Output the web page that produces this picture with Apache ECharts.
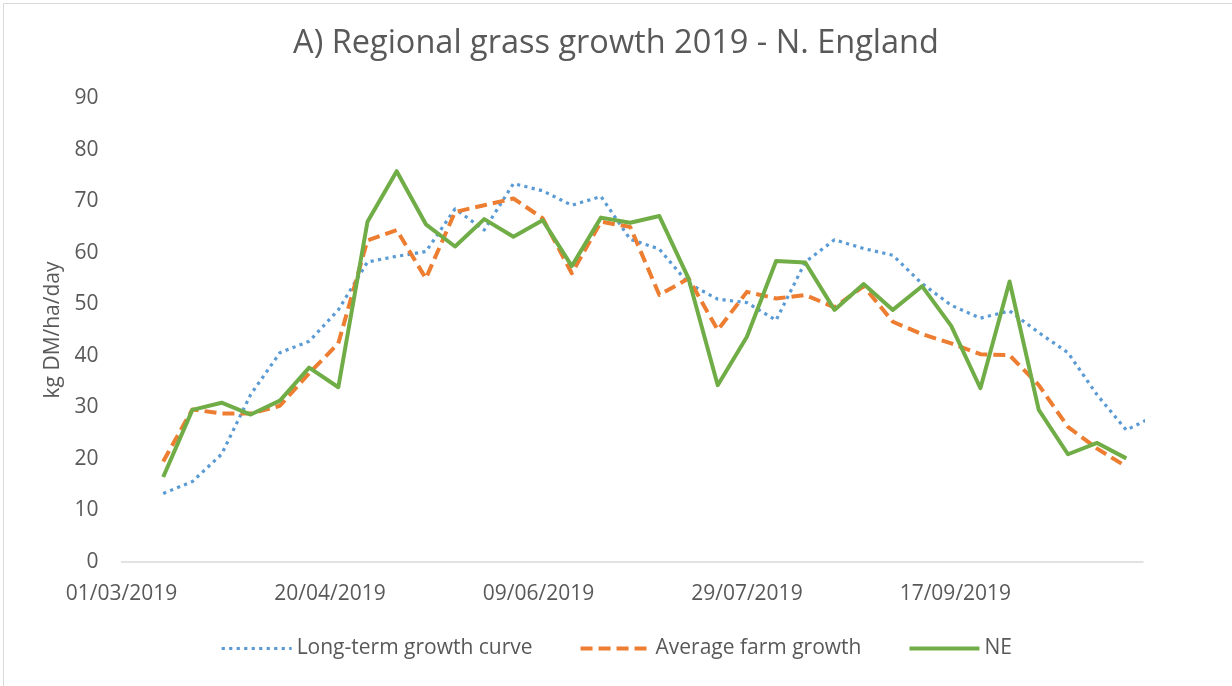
<!DOCTYPE html>
<html>
<head>
<meta charset="utf-8">
<title>Regional grass growth 2019 - N. England</title>
<script src="https://cdn.jsdelivr.net/npm/echarts@6/dist/echarts.min.js"></script>
<style>
  html, body { margin: 0; padding: 0; background: #ffffff; }
  #chart { width: 1232px; height: 686px; }
</style>
</head>
<body>
<div id="chart"></div>
<script>
// Weekly recording dates (dd/mm/yyyy)
const weekDates = [
  '11/03/2019', '18/03/2019', '25/03/2019', '01/04/2019', '08/04/2019',
  '15/04/2019', '22/04/2019', '29/04/2019', '06/05/2019', '13/05/2019',
  '20/05/2019', '27/05/2019', '03/06/2019', '10/06/2019', '17/06/2019',
  '24/06/2019', '01/07/2019', '08/07/2019', '15/07/2019', '22/07/2019',
  '29/07/2019', '05/08/2019', '12/08/2019', '19/08/2019', '26/08/2019',
  '02/09/2019', '09/09/2019', '16/09/2019', '23/09/2019', '30/09/2019',
  '07/10/2019', '14/10/2019', '21/10/2019', '28/10/2019', '04/11/2019'
];

// Growth, kg DM/ha/day
const longTermCurve = [
  13.3, 15.6, 20.9, 32.5, 40.6, 42.8, 48.9, 58.2, 59.3, 60.2,
  68.5, 64.4, 73.4, 72.0, 69.2, 70.9, 62.6, 60.7, 54.0, 51.0,
  50.3, 46.9, 58.2, 62.5, 60.8, 59.5, 54.0, 49.8, 47.3, 48.7,
  44.5, 40.6, 32.4, 25.6, 28.4
];
const averageFarm = [
  19.5, 29.6, 28.8, 28.8, 30.3, 36.6, 42.4, 62.4, 64.4, 55.0,
  67.9, 69.2, 70.5, 66.7, 56.0, 66.0, 65.0, 51.8, 55.0, 45.0,
  52.4, 51.1, 51.8, 49.4, 53.5, 46.6, 44.2, 42.4, 40.3, 40.1,
  34.3, 26.2, 22.0, 18.5
];
const northEast = [
  16.5, 29.5, 30.9, 28.6, 31.3, 37.7, 33.9, 66.0, 75.8, 65.5,
  61.2, 66.5, 63.1, 66.3, 57.4, 66.8, 65.8, 67.1, 55.0, 34.3,
  43.7, 58.4, 58.1, 48.9, 53.9, 48.9, 53.5, 45.8, 33.7, 54.4,
  29.5, 20.9, 23.1, 20.1
];

// Axis range
const axisStart = '01/03/2019';
const axisEnd = '01/11/2019';
const dayStep = 50;
const yTicks = { min: 0, max: 90, step: 10 };

const DAY_MS = 86400000;
function parseDate(s) {
  const [d, m, y] = s.split('/').map(Number);
  return Date.UTC(y, m - 1, d);
}
const originMs = parseDate(axisStart);
function dayOffset(s) { return Math.round((parseDate(s) - originMs) / DAY_MS); }
function formatDay(offset) {
  const dt = new Date(originMs + offset * DAY_MS);
  const dd = String(dt.getUTCDate()).padStart(2, '0');
  const mm = String(dt.getUTCMonth() + 1).padStart(2, '0');
  return dd + '/' + mm + '/' + dt.getUTCFullYear();
}
function pairs(values) {
  return values.map((v, i) => [dayOffset(weekDates[i]), v]);
}

const textColor = '#595959';
const fontFamily = '"Open Sans", "Noto Sans", sans-serif';

const chart = echarts.init(document.getElementById('chart'), null, { renderer: 'canvas' });

chart.setOption({
  backgroundColor: '#ffffff',
  animation: false,
  title: {
    text: 'A) Regional grass growth 2019 - N. England',
    left: 'center',
    top: 22,
    textStyle: {
      color: textColor,
      fontFamily: fontFamily,
      fontSize: 32.5,
      fontWeight: 'normal'
    }
  },
  grid: {
    left: 121.5,
    right: 89,
    top: 98,
    bottom: 124
  },
  xAxis: {
    type: 'value',
    min: 0,
    max: dayOffset(axisEnd),
    interval: dayStep,
    splitLine: { show: false },
    axisTick: { show: false },
    axisLine: { show: true, lineStyle: { color: '#D9D9D9', width: 1.5 } },
    axisLabel: {
      showMaxLabel: false,
      margin: 22,
      color: textColor,
      fontFamily: fontFamily,
      fontSize: 21,
      formatter: v => formatDay(v)
    }
  },
  yAxis: {
    type: 'value',
    min: yTicks.min,
    max: yTicks.max,
    interval: yTicks.step,
    name: 'kg DM/ha/day',
    nameLocation: 'middle',
    nameRotate: 90,
    nameGap: 56,
    nameTextStyle: {
      color: textColor,
      fontFamily: fontFamily,
      fontSize: 21
    },
    splitLine: { show: false },
    axisTick: { show: false },
    axisLine: { show: false },
    axisLabel: {
      margin: 23,
      color: textColor,
      fontFamily: fontFamily,
      fontSize: 21
    }
  },
  legend: {
    left: 'center',
    top: 633,
    itemWidth: 70,
    itemHeight: 14,
    itemGap: 46,
    // line-only keys: hide the marker, keep each series' own stroke
    itemStyle: { opacity: 0 },
    lineStyle: { width: 'inherit', type: 'inherit', cap: 'inherit' },
    textStyle: {
      color: textColor,
      fontFamily: fontFamily,
      fontSize: 21
    },
    data: ['Long-term growth curve', 'Average farm growth', 'NE']
  },
  series: [
    {
      name: 'Long-term growth curve',
      type: 'line',
      data: pairs(longTermCurve),
      symbol: 'none',
      clip: true,
      lineStyle: {
        color: '#5B9BD5',
        width: 3.2,
        type: [3.2, 4.3],
        cap: 'butt',
        join: 'round'
      },
      itemStyle: { color: '#5B9BD5' },
      z: 2
    },
    {
      name: 'Average farm growth',
      type: 'line',
      data: pairs(averageFarm),
      symbol: 'none',
      lineStyle: {
        color: '#ED7D31',
        width: 4,
        type: [12, 6],
        cap: 'butt',
        join: 'round'
      },
      itemStyle: { color: '#ED7D31' },
      z: 3
    },
    {
      name: 'NE',
      type: 'line',
      data: pairs(northEast),
      symbol: 'none',
      lineStyle: {
        color: '#70AD47',
        width: 4,
        join: 'round'
      },
      itemStyle: { color: '#70AD47' },
      z: 4
    }
  ],
  graphic: [
    {
      type: 'rect',
      left: 1,
      top: 1,
      shape: { width: 1229, height: 683 },
      style: { fill: 'none', stroke: '#D9D9D9', lineWidth: 1 },
      silent: true
    }
  ]
});
</script>
</body>
</html>
